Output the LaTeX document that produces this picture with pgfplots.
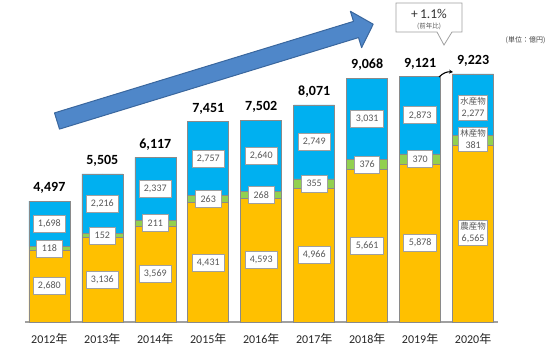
\documentclass[border=0pt]{standalone}
\usepackage{pgfplots}
\pgfplotsset{compat=1.18}
\usetikzlibrary{arrows.meta}
\usepackage{fontspec}
\setmainfont{Carlito}
\newfontfamily\jp{Noto Sans CJK JP}
\definecolor{cOr}{HTML}{FFC000}
\definecolor{cGr}{HTML}{92D050}
\definecolor{cBl}{HTML}{00B0F0}
\definecolor{cEdge}{HTML}{8A8A8A}
\definecolor{cArrow}{HTML}{4F87C9}
\definecolor{cArrowE}{HTML}{3A679E}
\definecolor{cLab}{HTML}{595959}
\definecolor{cBox}{HTML}{A0A0A0}
\begin{document}
\begin{tikzpicture}
\useasboundingbox (-25pt,-28pt) rectangle (525pt,322pt);
\begin{axis}[
  at={(0,0)}, anchor=south west,
  scale only axis, width=473pt, height=322pt,
  xmin=-0.46, xmax=8.47, ymin=0, ymax=11970,
  ybar stacked, bar width=41pt,
  axis y line=none, axis x line*=bottom,
  x axis line style={-, draw=cBox, line width=1.3pt},
  xtick={0,...,8},
  xticklabels={2012{\jp 年},2013{\jp 年},2014{\jp 年},2015{\jp 年},2016{\jp 年},2017{\jp 年},2018{\jp 年},2019{\jp 年},2020{\jp 年}},
  xticklabel style={font=\fontsize{12}{14}\selectfont, text=black!85, yshift=-8pt},
  xtick style={draw=none}, ytick=\empty,
  clip=false,
]
\addplot[fill=cOr, draw=cEdge, line width=0.6pt] coordinates {(0,2680) (1,3136) (2,3569) (3,4431) (4,4593) (5,4966) (6,5661) (7,5878) (8,6565)};
\addplot[fill=cGr, draw=cEdge, line width=0.6pt] coordinates {(0,118) (1,152) (2,211) (3,263) (4,268) (5,355) (6,376) (7,370) (8,381)};
\addplot[fill=cBl, draw=cEdge, line width=0.6pt] coordinates {(0,1698) (1,2216) (2,2337) (3,2757) (4,2640) (5,2749) (6,3031) (7,2873) (8,2277)};
\end{axis}
\begin{axis}[
  at={(0,0)}, anchor=south west,
  scale only axis, width=473pt, height=322pt,
  xmin=-0.46, xmax=8.47, ymin=0, ymax=11970,
  hide axis, clip=false,
  segl/.style={only marks, mark=*, mark size=0pt, mark options={draw=none, fill=none},
    nodes near coords, point meta=explicit symbolic,
    every node near coord/.append style={anchor=center, font=\fontsize{10}{12}\selectfont, text=cLab, fill=white, draw=cBox, line width=0.6pt, inner xsep=5pt, inner ysep=2pt, minimum height=17pt}},
  twol/.style={only marks, mark=*, mark size=0pt, mark options={draw=none, fill=none},
    nodes near coords={#1},
    every node near coord/.append style={anchor=center, font=\fontsize{10}{12}\selectfont, text=cLab, fill=white, draw=cBox, line width=0.6pt, inner xsep=1.8pt, inner ysep=2.5pt, align=center}},
]
% orange labels
\addplot[segl] coordinates {(0,1340)[2,680] (1,1568)[3,136] (2,1784)[3,569] (3,2215)[4,431] (4,2296)[4,593] (5,2483)[4,966] (6,2830)[5,661] (7,2939)[5,878]};
% green labels
\addplot[segl] coordinates {(0,2739)[118] (1,3212)[152] (2,3674)[211] (3,4562)[263] (4,4727)[268] (5,5143)[355] (6,5849)[376] (7,6063)[370]};
% blue labels
\addplot[segl] coordinates {(0,3647)[1,698] (1,4396)[2,216] (2,4948)[2,337] (3,6072)[2,757] (4,6181)[2,640] (5,6695)[2,749] (6,7552)[3,031] (7,7684)[2,873]};
% 2020 labels
\addplot[twol={{\jp\fontsize{8.5}{11}\selectfont 水産物}\\2,277}] coordinates {(8,7955)};
\addplot[twol={{\jp\fontsize{8.5}{11}\selectfont 林産物}\\381}] coordinates {(8,6803)};
\addplot[twol={{\jp\fontsize{8.5}{11}\selectfont 農産物}\\6,565}] coordinates {(8,3309)};
% totals
\addplot[only marks, mark=*, mark size=0pt, mark options={draw=none, fill=none},
  nodes near coords, point meta=explicit symbolic,
  every node near coord/.append style={anchor=south, yshift=4pt, font=\bfseries\fontsize{14}{16}\selectfont, text=black}]
  coordinates {(0,4497)[4,497] (1,5505)[5,505] (2,6117)[6,117] (3,7451)[7,451] (4,7502)[7,502] (5,8071)[8,071] (6,9068)[9,068] (7,9121)[9,121] (8,9223)[9,223]};
\end{axis}
\begin{scope}[shift={(-25pt,322pt)}, x=1pt, y=-1pt]
\filldraw[fill=cArrow, draw=cArrowE, line width=1pt, line join=round]
  (54.5,112.9) -- (353.5,21.4) -- (350.4,11.3) -- (373.2,24.2) -- (361.6,47.7) -- (358.5,37.6) -- (59.5,129.1) -- cycle;
\filldraw[fill=white, draw=cBox, line width=0.8pt]
  (396,3) -- (462,3) -- (462,32) -- (452,32) -- (444,45) -- (437,32) -- (396,32) -- cycle;
\node[font=\fontsize{13.5}{15}\selectfont, text=black!80] at (429,13.5) {+\,1.1\%};
\node[font=\jp\fontsize{6.5}{7}\selectfont, text=cLab] at (429,26) {(前年比)};
\node[anchor=east, font=\jp\fontsize{7}{8}\selectfont, text=black!75] at (549,40) {(単位：億円)};
\draw[-{Stealth[length=4pt,width=4pt]}, line width=1.1pt] (439,77) to[bend left=25] (453,72);
\end{scope}
\end{tikzpicture}
\end{document}
